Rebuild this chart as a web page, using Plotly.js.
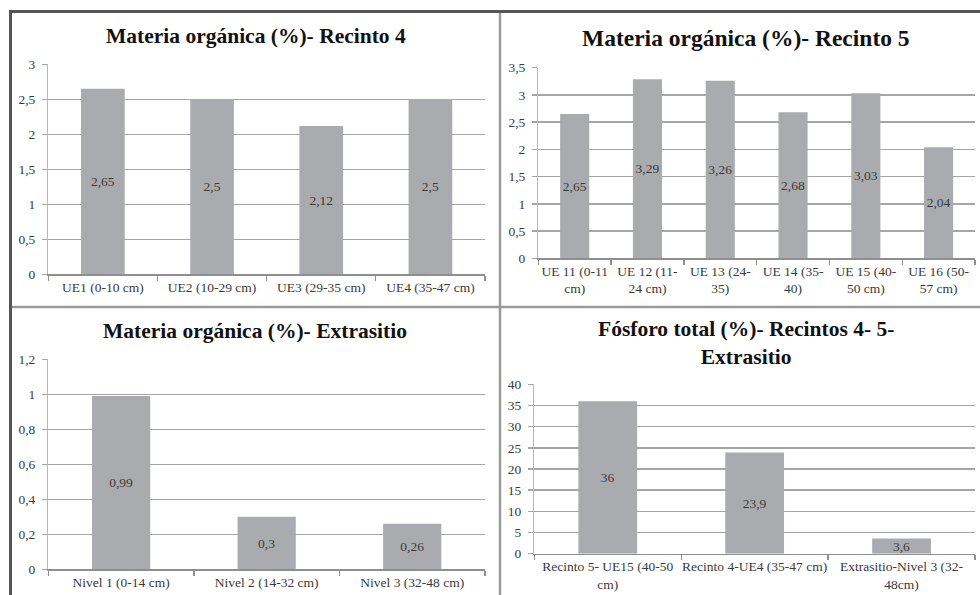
<!DOCTYPE html>
<html>
<head>
<meta charset="utf-8">
<script src="https://cdn.plot.ly/plotly-3.0.1.min.js"></script>
<style>
html,body{margin:0;padding:0;background:#fff;}
#chart{width:980px;height:595px;}
</style>
</head>
<body>
<div id="chart"></div>
<script>
// ---- Data ----
const titleRecinto4 = "Materia orgánica (%)- Recinto 4";
const catsRecinto4 = ["UE1 (0-10 cm)", "UE2 (10-29 cm)", "UE3 (29-35 cm)", "UE4 (35-47 cm)"];
const valsRecinto4 = [2.65, 2.5, 2.12, 2.5];

const titleRecinto5 = "Materia orgánica (%)- Recinto 5";
const catsRecinto5 = ["UE 11 (0-11<br>cm)", "UE 12 (11-<br>24 cm)", "UE 13 (24-<br>35)", "UE 14 (35-<br>40)", "UE 15 (40-<br>50 cm)", "UE 16 (50-<br>57 cm)"];
const valsRecinto5 = [2.65, 3.29, 3.26, 2.68, 3.03, 2.04];

const titleExtrasitio = "Materia orgánica (%)- Extrasitio";
const catsExtrasitio = ["Nivel 1 (0-14 cm)", "Nivel 2 (14-32 cm)", "Nivel 3 (32-48 cm)"];
const valsExtrasitio = [0.99, 0.3, 0.26];

const titleFosforo = "Fósforo total (%)- Recintos 4- 5-<br>Extrasitio";
const catsFosforo = ["Recinto 5- UE15 (40-50<br>cm)", "Recinto 4-UE4 (35-47 cm)", "Extrasitio-Nivel 3 (32-<br>48cm)"];
const valsFosforo = [36, 23.9, 3.6];

const yRanges = [[0, 3], [0, 3.5], [0, 1.2], [0, 40]];
const yDticks = [0.5, 0.5, 0.2, 5];

// ---- Layout helpers ----
const W = 980, H = 595;
const fx = p => p / W;
const fy = p => 1 - p / H;
const FONT = "Liberation Serif";
const barColor = "#aaabaf";
const gridColor = "#a6a6a6";
const labelColor = "#3a3a3a";

function fmt(v) { return String(v).replace('.', ','); }

function barTrace(cats, vals, n) {
  const s = n === 1 ? '' : String(n);
  return {
    type: 'bar', x: cats, y: vals,
    xaxis: 'x' + s, yaxis: 'y' + s,
    marker: {color: barColor, line: {width: 0}},
    text: vals.map(fmt),
    textposition: 'inside', insidetextanchor: 'middle', constraintext: 'none', textangle: 0,
    textfont: {family: FONT, size: 13.5, color: labelColor},
    hoverinfo: 'none', showlegend: false
  };
}

const traces = [
  barTrace(catsRecinto4, valsRecinto4, 1),
  barTrace(catsRecinto5, valsRecinto5, 2),
  barTrace(catsExtrasitio, valsExtrasitio, 3),
  barTrace(catsFosforo, valsFosforo, 4)
];

// pixel boxes: [left, right, top, bottom]
const boxes = [
  [48.3, 485, 64.3, 274.3],
  [538.3, 975, 67.7, 258.3],
  [48.3, 485, 359.3, 569.3],
  [534.3, 975, 384.3, 553.7]
];

const layout = {
  width: W, height: H,
  margin: {l: 0, r: 0, t: 0, b: 0},
  paper_bgcolor: '#fff', plot_bgcolor: '#fff',
  separators: ', ',
  bargap: 0.6,
  hovermode: false,
  showlegend: false,
  font: {family: FONT, color: labelColor, size: 13.5},
  annotations: [],
  shapes: []
};

boxes.forEach((b, i) => {
  const s = i === 0 ? '' : String(i + 1);
  layout['xaxis' + s] = {
    domain: [fx(b[0]), fx(b[1])],
    anchor: 'y' + s,
    type: 'category',
    showgrid: false,
    showline: true, linecolor: '#8f8f8f', linewidth: 1.3,
    ticks: 'outside', tickson: 'boundaries', ticklen: 5, tickcolor: '#8f8f8f', tickwidth: 1.3,
    tickfont: {family: FONT, size: 13.5, color: labelColor},
    tickangle: 0,
    automargin: false,
    fixedrange: true
  };
  layout['yaxis' + s] = {
    domain: [fy(b[3]), fy(b[2])],
    anchor: 'x' + s,
    range: yRanges[i],
    dtick: yDticks[i], tick0: 0,
    showgrid: true, gridcolor: gridColor, gridwidth: 1.5,
    zeroline: false,
    showline: true, linecolor: '#b8b8b8', linewidth: 1.3,
    ticks: 'outside', ticklen: 5, tickcolor: gridColor, tickwidth: 1.5,
    ticklabelstandoff: 4,
    tickfont: {family: FONT, size: 13.5, color: labelColor},
    automargin: false,
    fixedrange: true
  };
});

// titles
const titles = [
  {text: titleRecinto4, x: 255.5, y: 36, size: 21.5},
  {text: titleRecinto5, x: 745.7, y: 38, size: 23.5},
  {text: titleExtrasitio, x: 255, y: 331, size: 21.5},
  {text: titleFosforo, x: 746, y: 343.5, size: 21.5}
];
titles.forEach(t => {
  layout.annotations.push({
    text: '<b>' + t.text.replace('<br>', '</b><br><b>') + '</b>',
    xref: 'paper', yref: 'paper',
    x: fx(t.x), y: fy(t.y),
    xanchor: 'center', yanchor: 'middle',
    showarrow: false,
    font: {family: FONT, size: t.size, color: '#111'}
  });
});

// panel borders
const dark = '#555555', mid = '#9a9a9a';
layout.shapes.push(
  {type: 'line', xref: 'paper', yref: 'paper', x0: fx(9), x1: 1, y0: fy(11.5), y1: fy(11.5), line: {color: dark, width: 3}},
  {type: 'line', xref: 'paper', yref: 'paper', x0: fx(10.5), x1: fx(10.5), y0: fy(10), y1: 0, line: {color: dark, width: 3}},
  {type: 'line', xref: 'paper', yref: 'paper', x0: fx(500), x1: fx(500), y0: fy(13), y1: 0, line: {color: mid, width: 2.5}},
  {type: 'line', xref: 'paper', yref: 'paper', x0: fx(12), x1: 1, y0: fy(307), y1: fy(307), line: {color: mid, width: 2.5}}
);

Plotly.newPlot('chart', traces, layout, {displayModeBar: false, staticPlot: true});
</script>
</body>
</html>
